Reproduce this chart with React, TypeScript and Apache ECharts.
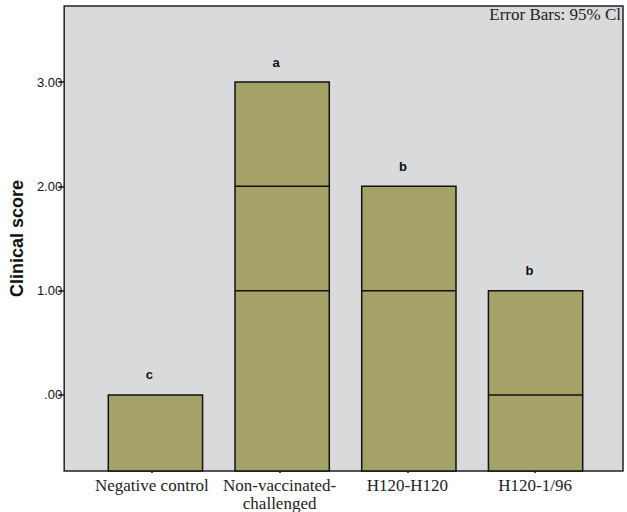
import React, { useEffect, useRef } from "react";
import * as echarts from "echarts";

const categories = ["Negative control", "Non-vaccinated-\nchallenged", "H120-H120", "H120-1/96"];
const barValues = [0, 3, 2, 1];
const innerLines = [[], [1, 2], [1], [0]];
const letters = ["c", "a", "b", "b"];
const yTicks = [0, 1, 2, 3];

const Y_MIN = -0.73;
const Y_MAX = 3.73;
const X_MIN = -0.72;
const X_MAX = 3.69;
const BAR_W = 0.744;

export default function App() {
  const ref = useRef<HTMLDivElement>(null);
  useEffect(() => {
    const chart = echarts.init(ref.current!, null, { renderer: "svg" });
    const barData = barValues.map((v, i) => [i, v]);
    const lineData: number[][] = [];
    innerLines.forEach((arr, i) => arr.forEach((v) => lineData.push([i, v])));
    const letterData = letters.map((l, i) => [i, barValues[i]]);

    chart.setOption({
      animation: false,
      backgroundColor: "#ffffff",
      grid: [
        { left: 60, right: 4, top: 6, bottom: 41, show: true, backgroundColor: "#d9dadc", borderColor: "#222", borderWidth: 1.5 },
        { left: 88, right: 28, top: 6, bottom: 41, show: false },
      ],
      xAxis: [
        { type: "value", gridIndex: 0, min: X_MIN, max: X_MAX, axisLine: { show: false, onZero: false }, axisTick: { show: false }, axisLabel: { show: false }, splitLine: { show: false } },
        {
          type: "category", gridIndex: 1, data: categories,
          axisLine: { show: false, onZero: false },
          axisTick: { show: true, alignWithLabel: true, length: 5, lineStyle: { color: "#111", width: 1.5 } },
          axisLabel: { fontFamily: "Liberation Serif", fontSize: 17, color: "#222", margin: 8, lineHeight: 18, interval: 0 },
        },
      ],
      yAxis: [
        {
          type: "value", gridIndex: 0, min: Y_MIN, max: Y_MAX,
          name: "Clinical score", nameLocation: "middle", nameGap: 35,
          nameTextStyle: { fontFamily: "Liberation Sans", fontWeight: "bold", fontSize: 18, color: "#111" },
          axisLine: { show: false, onZero: false },
          axisTick: { show: true, length: 6, customValues: yTicks, lineStyle: { color: "#111", width: 1.5 } },
          axisLabel: {
            customValues: yTicks, fontFamily: "Liberation Sans", fontSize: 13, color: "#111", margin: 2,
            formatter: (v: number) => (v === 0 ? ".00" : v.toFixed(2)),
          },
          splitLine: { show: false },
        },
        { type: "value", gridIndex: 1, min: Y_MIN, max: Y_MAX, show: false, axisLine: { onZero: false } },
      ],
      graphic: [
        { type: "text", right: 6, top: 6, style: { text: "Error Bars: 95% Cl", fontFamily: "Liberation Serif", fontSize: 17, fill: "#222" } },
      ],
      series: [
        {
          type: "custom", xAxisIndex: 0, yAxisIndex: 0, data: barData,
          renderItem: (params: any, api: any) => {
            const x = api.value(0);
            const top = api.coord([x, api.value(1)]);
            const bot = api.coord([x, Y_MIN]);
            const w = api.size([BAR_W, 0])[0];
            return {
              type: "rect",
              shape: { x: top[0] - w / 2, y: top[1], width: w, height: bot[1] - top[1] },
              style: { fill: "#a5a268", stroke: "#111", lineWidth: 1.5 },
            };
          },
        },
        {
          type: "custom", xAxisIndex: 0, yAxisIndex: 0, data: lineData,
          renderItem: (params: any, api: any) => {
            const x = api.value(0);
            const p = api.coord([x, api.value(1)]);
            const w = api.size([BAR_W, 0])[0];
            return {
              type: "line",
              shape: { x1: p[0] - w / 2, y1: p[1], x2: p[0] + w / 2, y2: p[1] },
              style: { stroke: "#111", lineWidth: 1.5 },
            };
          },
        },
        {
          type: "custom", xAxisIndex: 0, yAxisIndex: 0, data: letterData,
          renderItem: (params: any, api: any) => {
            const p = api.coord([api.value(0), api.value(1)]);
            return {
              type: "text",
              x: p[0] - 6, y: p[1] - 20,
              style: { text: letters[params.dataIndex], fontFamily: "Liberation Sans", fontWeight: "bold", fontSize: 13, fill: "#111", align: "center", verticalAlign: "middle" },
            };
          },
        },
      ],
    });
    return () => chart.dispose();
  }, []);
  return <div ref={ref} style={{ position: "fixed", left: 0, top: 0, width: 627, height: 512 }} />;
}
